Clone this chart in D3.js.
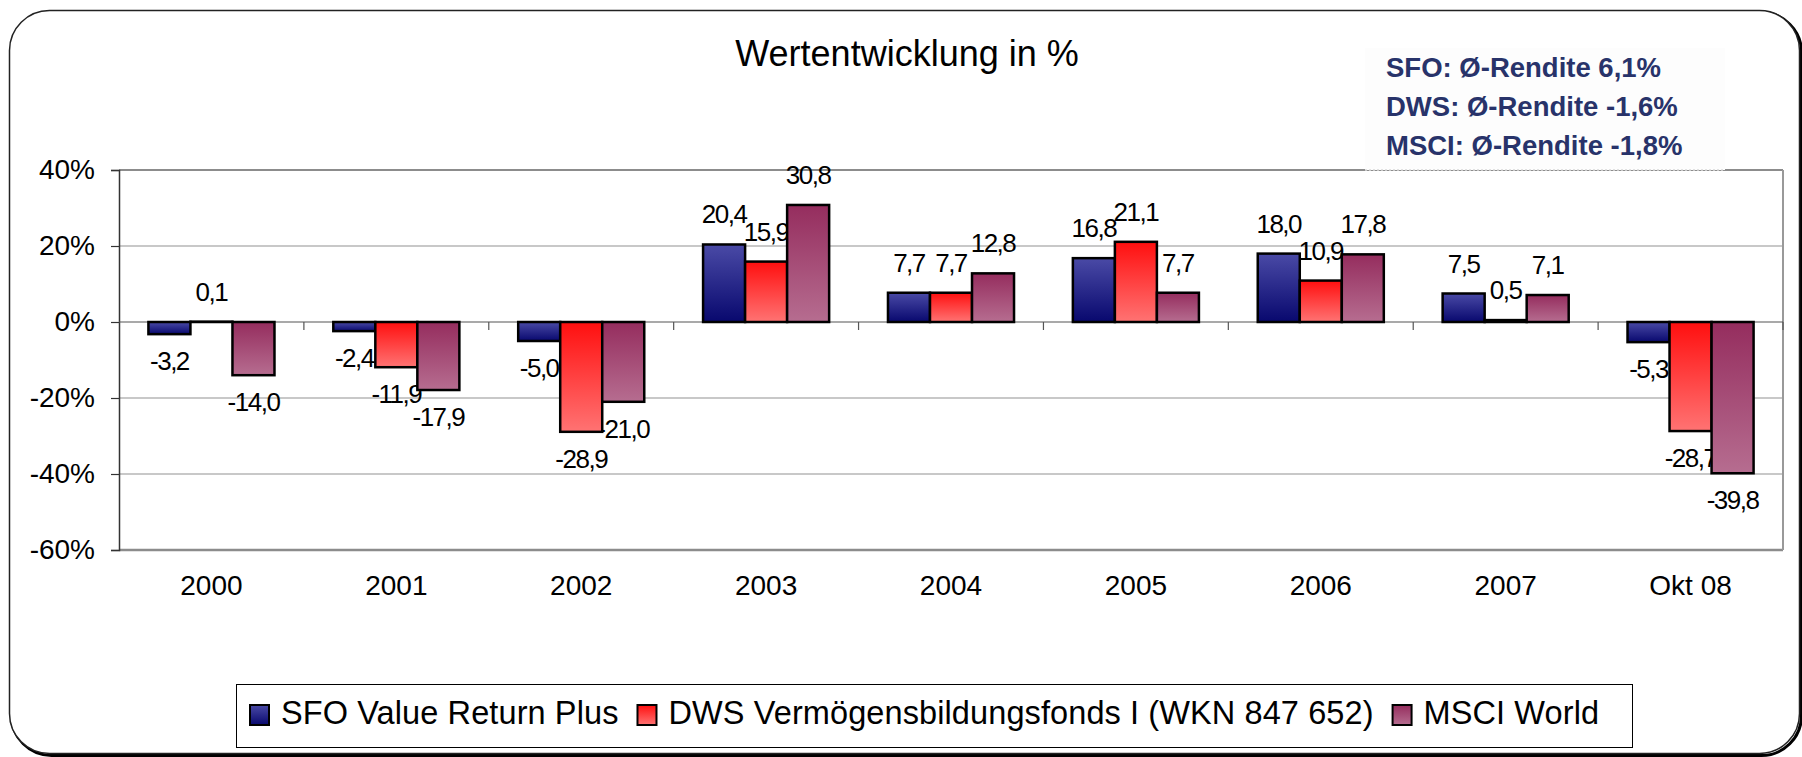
<!DOCTYPE html>
<html>
<head>
<meta charset="utf-8">
<script src="https://cdn.jsdelivr.net/npm/d3@7"></script>
<style>
  body { margin: 0; background: #fff; }
  svg { display: block; font-family: "Liberation Sans", Arial, sans-serif; }
</style>
</head>
<body>
<script>
// DATA
var categories = ["2000", "2001", "2002", "2003", "2004", "2005", "2006", "2007", "Okt 08"];
var seriesNames = ["SFO Value Return Plus", "DWS Vermögensbildungsfonds I (WKN 847 652)", "MSCI World"];
var sfoValues  = [-3.2, -2.4, -5.0, 20.4, 7.7, 16.8, 18.0, 7.5, -5.3];
var dwsValues  = [0.1, -11.9, -28.9, 15.9, 7.7, 21.1, 10.9, 0.5, -28.7];
var msciValues = [-14.0, -17.9, -21.0, 30.8, 12.8, 7.7, 17.8, 7.1, -39.8];
var yTicks = [-60, -40, -20, 0, 20, 40];
var averageLines = ["SFO: Ø-Rendite 6,1%", "DWS: Ø-Rendite -1,6%", "MSCI: Ø-Rendite -1,8%"];
var title = "Wertentwicklung in %";

var allValues = [sfoValues, dwsValues, msciValues];
var gradIds = ["gradSfo", "gradDws", "gradMsci"];
var gradStops = [["#4a4aa6", "#08086e"], ["#ff0f0f", "#ff7373"], ["#952d5e", "#b66d90"]];

var width = 1802, height = 757;
var plotLeft = 119, plotRight = 1783, plotTop = 170, plotBottom = 550;

var svg = d3.select("body").append("svg")
    .attr("width", width).attr("height", height)
    .attr("viewBox", "0,0," + width + "," + height);

// GRADIENTS
var defs = svg.append("defs");
gradIds.forEach(function(id, i){
    var g = defs.append("linearGradient").attr("id", id)
        .attr("x1", 0).attr("y1", 0).attr("x2", 0).attr("y2", 1);
    g.append("stop").attr("offset", "0%").attr("stop-color", gradStops[i][0]);
    g.append("stop").attr("offset", "100%").attr("stop-color", gradStops[i][1]);
});

// OUTER ROUNDED BOX
svg.append("rect")
    .attr("x", 11.5).attr("y", 12.5).attr("width", 1790).attr("height", 743)
    .attr("rx", 40).attr("ry", 40)
    .attr("fill", "none").attr("stroke", "#000").attr("stroke-width", 3);
svg.append("rect")
    .attr("x", 9.5).attr("y", 10.5).attr("width", 1790).attr("height", 743)
    .attr("rx", 40).attr("ry", 40)
    .attr("fill", "#fff").attr("stroke", "#222").attr("stroke-width", 1.5);

// TITLE
svg.append("text")
    .attr("x", 907).attr("y", 66)
    .attr("text-anchor", "middle")
    .attr("font-size", "36px")
    .attr("fill", "#000")
    .text(title);

// SCALES
var x = d3.scaleBand().domain(categories).range([plotLeft, plotRight]).paddingInner(0).paddingOuter(0);
var xSub = d3.scaleBand().domain(d3.range(3)).range([0, x.bandwidth()]).paddingInner(0).paddingOuter(0.7);
var y = d3.scaleLinear().domain([-60, 40]).range([plotBottom, plotTop]);

// GRIDLINES
svg.append("g").selectAll("line.grid").data(yTicks.filter(function(t){ return t !== 0 && t !== 40 && t !== -60; }))
    .enter().append("line")
    .attr("class", "grid")
    .attr("x1", plotLeft).attr("x2", plotRight)
    .attr("y1", function(d){ return y(d); }).attr("y2", function(d){ return y(d); })
    .attr("stroke", "#c8c8c8").attr("stroke-width", 2);

// PLOT FRAME
svg.append("line").attr("x1", plotLeft).attr("x2", plotRight).attr("y1", y(40)).attr("y2", y(40))
    .attr("stroke", "#8c8c8c").attr("stroke-width", 2);
svg.append("line").attr("x1", plotLeft).attr("x2", plotRight).attr("y1", y(-60)).attr("y2", y(-60))
    .attr("stroke", "#8c8c8c").attr("stroke-width", 2.5);
svg.append("line").attr("x1", plotRight).attr("x2", plotRight).attr("y1", y(40)).attr("y2", y(-60))
    .attr("stroke", "#999").attr("stroke-width", 2);

// Y AXIS
var yAxis = svg.append("g")
    .attr("transform", "translate(" + plotLeft + ",0)")
    .call(d3.axisLeft(y).tickValues(yTicks).tickSize(8).tickPadding(16)
        .tickFormat(function(d){ return d + "%"; }));
yAxis.select(".domain").attr("stroke", "#333").attr("stroke-width", 1.5);
yAxis.selectAll(".tick line").attr("stroke", "#333").attr("stroke-width", 1.2);
yAxis.selectAll(".tick text")
    .attr("font-size", "28px").attr("fill", "#000")
    .attr("font-family", "Liberation Sans, Arial, sans-serif");

// ZERO LINE WITH CATEGORY TICKS
svg.append("line").attr("x1", plotLeft).attr("x2", plotRight).attr("y1", y(0)).attr("y2", y(0))
    .attr("stroke", "#555").attr("stroke-width", 1.2);
svg.append("g").selectAll("line.ctick").data(categories.slice(1).concat(["end"]))
    .enter().append("line")
    .attr("class", "ctick")
    .attr("x1", function(d, i){ return plotLeft + (i + 1) * x.step(); })
    .attr("x2", function(d, i){ return plotLeft + (i + 1) * x.step(); })
    .attr("y1", y(0)).attr("y2", y(0) + 8)
    .attr("stroke", "#555").attr("stroke-width", 1.2);

// CATEGORY LABELS
svg.append("g").selectAll("text.cat").data(categories)
    .enter().append("text")
    .attr("class", "cat")
    .attr("x", function(d){ return x(d) + x.bandwidth() / 2; })
    .attr("y", 595)
    .attr("text-anchor", "middle")
    .attr("font-size", "28px")
    .text(function(d){ return d; });

// DATA LABELS (under the bars, like the original)
function fmt(v){ return v.toFixed(1).replace(".", ","); }
allValues.forEach(function(vals, s){
    svg.append("g").selectAll("text.lbl").data(vals)
        .enter().append("text")
        .attr("class", "lbl")
        .attr("x", function(d, i){ return x(categories[i]) + xSub(s) + xSub.bandwidth() / 2; })
        .attr("y", function(d){ return d >= 0 ? y(d) - 21 : y(d) + 36; })
        .attr("text-anchor", "middle")
        .attr("font-size", "26px")
        .attr("letter-spacing", "-1.5px")
        .text(function(d){ return fmt(d); });
});

// BARS
allValues.forEach(function(vals, s){
    svg.append("g").selectAll("rect.bar").data(vals)
        .enter().append("rect")
        .attr("class", "bar")
        .attr("x", function(d, i){ return x(categories[i]) + xSub(s); })
        .attr("width", xSub.bandwidth())
        .attr("y", function(d){ return y(Math.max(0, d)); })
        .attr("height", function(d){ return Math.abs(y(d) - y(0)); })
        .attr("fill", "url(#" + gradIds[s] + ")")
        .attr("stroke", "#000").attr("stroke-width", 2.5);
});

// AVERAGE RETURN BOX
svg.append("rect")
    .attr("x", 1365).attr("y", 48).attr("width", 360).attr("height", 122)
    .attr("fill", "#fdfdfd");
svg.append("line")
    .attr("x1", 1365).attr("x2", 1725).attr("y1", 170).attr("y2", 170)
    .attr("stroke", "#d8d8d8").attr("stroke-width", 1.5)
    .attr("stroke-dasharray", "2,2");
svg.append("g").selectAll("text.avg").data(averageLines)
    .enter().append("text")
    .attr("class", "avg")
    .attr("x", 1386)
    .attr("y", function(d, i){ return 77 + i * 39; })
    .attr("font-size", "27.5px").attr("font-weight", "bold")
    .attr("fill", "#28336a")
    .text(function(d){ return d; });

// LEGEND
var legend = svg.append("g");
legend.append("rect")
    .attr("x", 236.5).attr("y", 684.5).attr("width", 1396).attr("height", 63)
    .attr("fill", "#fff").attr("stroke", "#000").attr("stroke-width", 1);
var lx = 250;
seriesNames.forEach(function(name, i){
    legend.append("rect")
        .attr("x", lx).attr("y", 705).attr("width", 19).attr("height", 20)
        .attr("fill", "url(#" + gradIds[i] + ")")
        .attr("stroke", "#000").attr("stroke-width", 2);
    var t = legend.append("text")
        .attr("x", lx + 31).attr("y", 724)
        .attr("font-size", "32.5px")
        .attr("letter-spacing", "0.1px")
        .text(name);
    lx = lx + 31 + t.node().getComputedTextLength() + 19;
});
</script>
</body>
</html>
